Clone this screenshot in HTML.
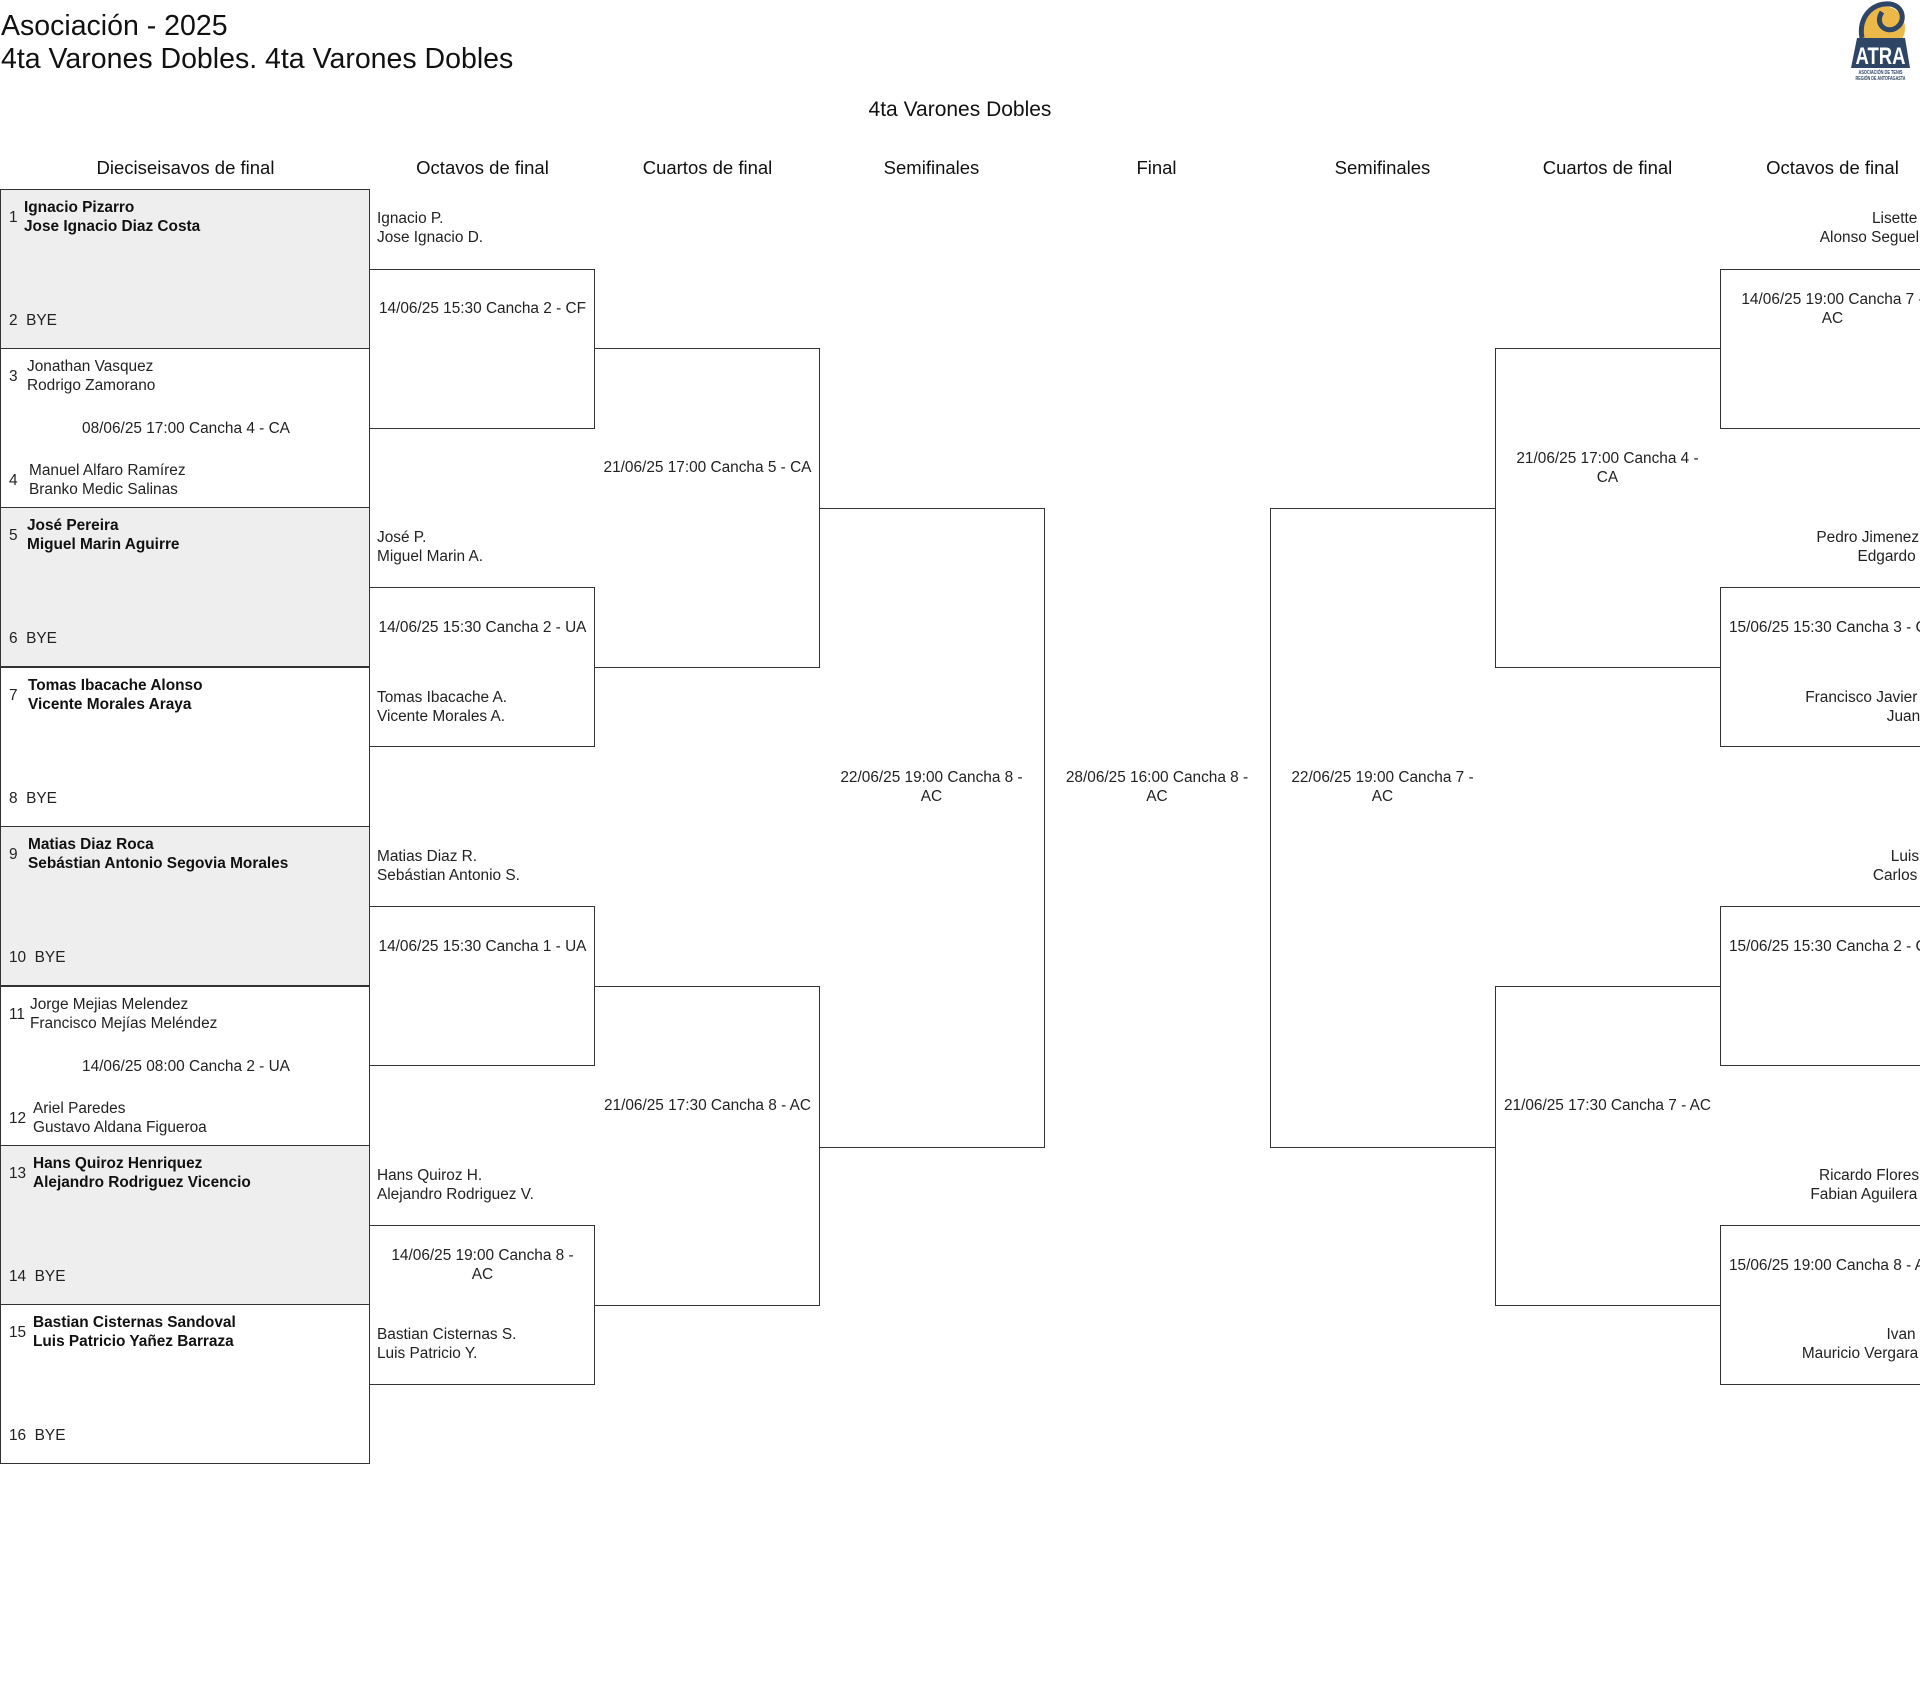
<!DOCTYPE html>
<html><head><meta charset="utf-8"><style>
*{margin:0;padding:0;box-sizing:border-box}
html,body{width:1920px;height:1705px;overflow:hidden;background:#fff}
body{position:relative;font-family:"Liberation Sans",sans-serif;color:#222;font-size:15.4px;line-height:19px}
.a{position:absolute;white-space:nowrap}
.b{position:absolute;border:1px solid #333}
.l{border-left:none}
.r{border-right:none}
.hd{position:absolute;top:156px;width:225px;text-align:center;font-size:18.5px;line-height:24px;color:#111}
.c{position:absolute;text-align:center;white-space:nowrap}
.bold{font-weight:bold;color:#111}
.n{position:absolute;left:8px}
.rt{position:absolute;text-align:right;white-space:nowrap;width:217px;left:1720px}
</style></head><body>
<div class="a" style="left:1px;top:10px;font-size:28.5px;line-height:33px;color:#111">Asociación - 2025</div>
<div class="a" style="left:1px;top:43px;font-size:28.5px;line-height:33px;color:#111">4ta Varones Dobles. 4ta Varones Dobles</div>
<div class="c" style="left:760px;width:400px;top:97px;font-size:21px;line-height:26px;color:#111">4ta Varones Dobles</div>

<svg style="position:absolute;left:1846px;top:0" width="66" height="82" viewBox="0 0 66 82">
<circle cx="37" cy="28" r="22" fill="#ecb84a"/>
<path d="M16 38 C12 18 26 2 44 4 C58 6 60 22 50 28 C40 34 28 24 36 12" fill="none" stroke="#2e4566" stroke-width="5"/>
<polygon points="11,38 59,38 64,68 5,68" fill="#2e4566"/>
<text x="34.5" y="64" text-anchor="middle" font-family="Liberation Sans" font-weight="bold" font-size="24" textLength="50" lengthAdjust="spacingAndGlyphs" fill="#fff">ATRA</text>
<text x="34.5" y="74" text-anchor="middle" font-family="Liberation Sans" font-weight="bold" font-size="5" textLength="44" lengthAdjust="spacingAndGlyphs" fill="#2e4566">ASOCIACIÓN DE TENIS</text>
<text x="34.5" y="80" text-anchor="middle" font-family="Liberation Sans" font-weight="bold" font-size="5" textLength="50" lengthAdjust="spacingAndGlyphs" fill="#2e4566">REGIÓN DE ANTOFAGASTA</text>
</svg>

<div class="hd" style="left:73px">Dieciseisavos de final</div>
<div class="hd" style="left:370px">Octavos de final</div>
<div class="hd" style="left:595px">Cuartos de final</div>
<div class="hd" style="left:819px">Semifinales</div>
<div class="hd" style="left:1044px">Final</div>
<div class="hd" style="left:1270px">Semifinales</div>
<div class="hd" style="left:1495px">Cuartos de final</div>
<div class="hd" style="left:1720px">Octavos de final</div>

<!-- R32 boxes -->
<div class="b" style="left:0;top:189px;width:370px;height:160px;background:#eee">
 <div class="n" style="top:18px">1</div><div class="a bold" style="left:23px;top:8px">Ignacio Pizarro<br>Jose Ignacio Diaz Costa</div>
 <div class="a" style="left:8px;top:121px">2&nbsp;&nbsp;BYE</div></div>
<div class="b" style="left:0;top:348px;width:370px;height:160px">
 <div class="n" style="top:18px">3</div><div class="a" style="left:26px;top:8px">Jonathan Vasquez<br>Rodrigo Zamorano</div>
 <div class="c" style="left:0;width:370px;top:70px">08/06/25 17:00 Cancha 4 - CA</div>
 <div class="n" style="top:122px">4</div><div class="a" style="left:28px;top:112px">Manuel Alfaro Ramírez<br>Branko Medic Salinas</div></div>
<div class="b" style="left:0;top:507px;width:370px;height:160px;background:#eee">
 <div class="n" style="top:18px">5</div><div class="a bold" style="left:26px;top:8px">José Pereira<br>Miguel Marin Aguirre</div>
 <div class="a" style="left:8px;top:121px">6&nbsp;&nbsp;BYE</div></div>
<div class="b" style="left:0;top:667px;width:370px;height:160px">
 <div class="n" style="top:18px">7</div><div class="a bold" style="left:27px;top:8px">Tomas Ibacache Alonso<br>Vicente Morales Araya</div>
 <div class="a" style="left:8px;top:121px">8&nbsp;&nbsp;BYE</div></div>
<div class="b" style="left:0;top:826px;width:370px;height:160px;background:#eee">
 <div class="n" style="top:18px">9</div><div class="a bold" style="left:27px;top:8px">Matias Diaz Roca<br>Sebástian Antonio Segovia Morales</div>
 <div class="a" style="left:8px;top:121px">10&nbsp;&nbsp;BYE</div></div>
<div class="b" style="left:0;top:986px;width:370px;height:160px">
 <div class="n" style="top:18px">11</div><div class="a" style="left:29px;top:8px">Jorge Mejias Melendez<br>Francisco Mejías Meléndez</div>
 <div class="c" style="left:0;width:370px;top:70px">14/06/25 08:00 Cancha 2 - UA</div>
 <div class="n" style="top:122px">12</div><div class="a" style="left:32px;top:112px">Ariel Paredes<br>Gustavo Aldana Figueroa</div></div>
<div class="b" style="left:0;top:1145px;width:370px;height:160px;background:#eee">
 <div class="n" style="top:18px">13</div><div class="a bold" style="left:32px;top:8px">Hans Quiroz Henriquez<br>Alejandro Rodriguez Vicencio</div>
 <div class="a" style="left:8px;top:121px">14&nbsp;&nbsp;BYE</div></div>
<div class="b" style="left:0;top:1304px;width:370px;height:160px">
 <div class="n" style="top:18px">15</div><div class="a bold" style="left:32px;top:8px">Bastian Cisternas Sandoval<br>Luis Patricio Yañez Barraza</div>
 <div class="a" style="left:8px;top:121px">16&nbsp;&nbsp;BYE</div></div>

<!-- left octavos -->
<div class="b l" style="left:369px;top:269px;width:226px;height:160px"></div>
<div class="b l" style="left:369px;top:587px;width:226px;height:160px"></div>
<div class="b l" style="left:369px;top:906px;width:226px;height:160px"></div>
<div class="b l" style="left:369px;top:1225px;width:226px;height:160px"></div>
<div class="a" style="left:377px;top:209px">Ignacio P.<br>Jose Ignacio D.</div>
<div class="c" style="left:370px;width:225px;top:299px">14/06/25 15:30 Cancha 2 - CF</div>
<div class="a" style="left:377px;top:528px">José P.<br>Miguel Marin A.</div>
<div class="c" style="left:370px;width:225px;top:618px">14/06/25 15:30 Cancha 2 - UA</div>
<div class="a" style="left:377px;top:688px">Tomas Ibacache A.<br>Vicente Morales A.</div>
<div class="a" style="left:377px;top:847px">Matias Diaz R.<br>Sebástian Antonio S.</div>
<div class="c" style="left:370px;width:225px;top:937px">14/06/25 15:30 Cancha 1 - UA</div>
<div class="a" style="left:377px;top:1166px">Hans Quiroz H.<br>Alejandro Rodriguez V.</div>
<div class="c" style="left:370px;width:225px;top:1246px">14/06/25 19:00 Cancha 8 -<br>AC</div>
<div class="a" style="left:377px;top:1325px">Bastian Cisternas S.<br>Luis Patricio Y.</div>

<!-- left cuartos -->
<div class="b l" style="left:594px;top:348px;width:226px;height:320px"></div>
<div class="b l" style="left:594px;top:986px;width:226px;height:320px"></div>
<div class="c" style="left:595px;width:225px;top:458px">21/06/25 17:00 Cancha 5 - CA</div>
<div class="c" style="left:595px;width:225px;top:1096px">21/06/25 17:30 Cancha 8 - AC</div>

<!-- semis -->
<div class="b l" style="left:819px;top:508px;width:226px;height:640px"></div>
<div class="c" style="left:819px;width:225px;top:768px">22/06/25 19:00 Cancha 8 -<br>AC</div>
<div class="c" style="left:1044px;width:226px;top:768px">28/06/25 16:00 Cancha 8 -<br>AC</div>
<div class="b r" style="left:1270px;top:508px;width:226px;height:640px"></div>
<div class="c" style="left:1270px;width:225px;top:768px">22/06/25 19:00 Cancha 7 -<br>AC</div>

<!-- right cuartos -->
<div class="b r" style="left:1495px;top:348px;width:226px;height:320px"></div>
<div class="b r" style="left:1495px;top:986px;width:226px;height:320px"></div>
<div class="c" style="left:1495px;width:225px;top:449px">21/06/25 17:00 Cancha 4 -<br>CA</div>
<div class="c" style="left:1495px;width:225px;top:1096px">21/06/25 17:30 Cancha 7 - AC</div>

<!-- right octavos -->
<div class="b r" style="left:1720px;top:269px;width:240px;height:160px"></div>
<div class="b r" style="left:1720px;top:587px;width:240px;height:160px"></div>
<div class="b r" style="left:1720px;top:906px;width:240px;height:160px"></div>
<div class="b r" style="left:1720px;top:1225px;width:240px;height:160px"></div>
<div class="rt" style="top:209px">Lisette R.<br>Alonso Seguel A.</div>
<div class="c" style="left:1720px;width:225px;top:290px">14/06/25 19:00 Cancha 7 -<br>AC</div>
<div class="rt" style="top:528px">Pedro Jimenez A.<br>Edgardo M.</div>
<div class="c" style="left:1720px;width:225px;top:618px">15/06/25 15:30 Cancha 3 - CF</div>
<div class="rt" style="top:688px">Francisco Javier R.<br>Juan P.</div>
<div class="rt" style="top:847px">Luis A.<br>Carlos R.</div>
<div class="c" style="left:1720px;width:225px;top:937px">15/06/25 15:30 Cancha 2 - CF</div>
<div class="rt" style="top:1166px">Ricardo Flores A.<br>Fabian Aguilera R.</div>
<div class="c" style="left:1720px;width:225px;top:1256px">15/06/25 19:00 Cancha 8 - AC</div>
<div class="rt" style="top:1325px">Ivan M.<br>Mauricio Vergara S.</div>
</body></html>
